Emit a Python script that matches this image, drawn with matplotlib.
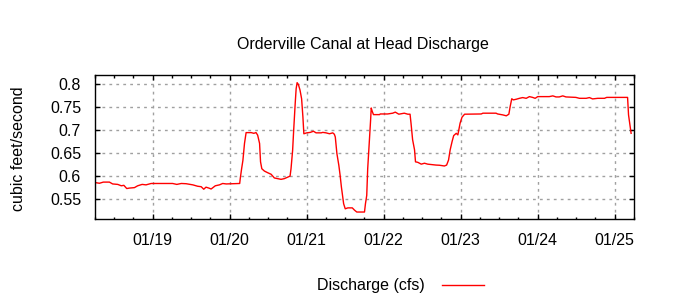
import matplotlib
matplotlib.use('Agg')
import matplotlib.pyplot as plt
import matplotlib.dates as mdates
import pandas as pd

# hours since 01/18 00:00 and discharge (cfs)
hours = [6.0, 7.4, 8.6, 10.5, 11.5, 13.1, 14.2, 15.0, 15.9, 16.7, 18.3, 19.3, 20.7, 21.9, 23.5,
         26.1, 30.2, 31.5, 32.9, 34.4, 36.5, 38.0, 39.1, 39.9, 40.6, 41.5, 42.2, 43.5, 44.8, 45.8,
         46.9, 51.1, 51.3, 51.7, 52.1, 52.6, 53.1, 54.7, 55.5, 56.2, 56.7, 57.3, 57.6, 58.0, 58.8,
         59.8, 60.9, 61.9, 63.0, 64.0, 65.0, 66.1, 66.8, 67.1, 67.6, 67.9, 68.4, 68.7, 69.0, 69.4,
         69.9, 70.4, 70.8, 71.1, 72.0, 73.1, 74.1, 74.9, 76.5, 77.0, 78.0, 79.1, 80.1, 80.6, 80.9,
         81.4, 82.0, 82.4, 82.8, 83.2, 83.5, 84.0, 84.8, 86.2, 86.9, 87.6, 90.0, 90.3, 90.7, 91.0,
         91.5, 91.9, 92.1, 92.4, 92.8, 94.7, 94.9, 97.2, 98.8, 99.6, 100.7, 102.4, 103.5, 104.2,
         104.5, 105.0, 105.6, 105.9, 106.6, 107.7, 108.7, 109.7, 112.3, 113.4, 114.9, 115.6, 116.2,
         116.7, 117.3, 117.8, 118.6, 119.1, 119.4, 119.8, 120.4, 121.2, 126.4, 126.9, 131.0, 131.5,
         133.1, 134.2, 135.0, 135.4, 135.9, 136.4, 137.3, 138.3, 139.3, 140.4, 141.4, 142.4, 143.2,
         144.0, 147.6, 148.7, 149.7, 150.7, 151.8, 152.8, 155.9, 157.0, 159.1, 160.1, 161.1, 162.7,
         164.8, 165.5, 171.5, 172.0, 172.3, 172.8, 173.1]
discharge = [0.585, 0.5835, 0.586, 0.586, 0.582, 0.581, 0.578, 0.579, 0.572, 0.573, 0.574, 0.578,
             0.581, 0.580, 0.583, 0.583, 0.583, 0.581, 0.583, 0.5825, 0.580, 0.577, 0.576, 0.5705,
             0.575, 0.573, 0.571, 0.578, 0.580, 0.583, 0.582, 0.583, 0.595, 0.615, 0.633, 0.670,
             0.6935, 0.6935, 0.692, 0.6935, 0.688, 0.670, 0.630, 0.615, 0.610, 0.6065, 0.603, 0.595,
             0.5935, 0.592, 0.5935, 0.597, 0.599, 0.615, 0.655, 0.695, 0.7565, 0.789, 0.802, 0.798,
             0.786, 0.767, 0.728, 0.691, 0.693, 0.694, 0.6965, 0.693, 0.693, 0.694, 0.693, 0.691,
             0.693, 0.690, 0.684, 0.648, 0.6226, 0.601, 0.5755, 0.554, 0.539, 0.528, 0.530, 0.530,
             0.525, 0.521, 0.521, 0.539, 0.557, 0.615, 0.673, 0.720, 0.747, 0.740, 0.7326, 0.7326,
             0.734, 0.734, 0.7357, 0.738, 0.7335, 0.7357, 0.7335, 0.7335, 0.714, 0.678, 0.656, 0.630,
             0.629, 0.625, 0.627, 0.625, 0.623, 0.6226, 0.621, 0.623, 0.634, 0.656, 0.674, 0.687,
             0.692, 0.6885, 0.699, 0.714, 0.727, 0.7335, 0.734, 0.7357, 0.7357, 0.734, 0.732, 0.730,
             0.7335, 0.750, 0.767, 0.7646, 0.766, 0.768, 0.7696, 0.768, 0.7717, 0.770, 0.768, 0.7717,
             0.7717, 0.7733, 0.771, 0.771, 0.7733, 0.771, 0.770, 0.768, 0.768, 0.7696, 0.7667, 0.768,
             0.768, 0.770, 0.770, 0.770, 0.732, 0.7065, 0.692]

base = pd.Timestamp('2024-01-18')
times = base + pd.to_timedelta(hours, unit='h')

plt.rcParams['font.family'] = ['Liberation Sans', 'DejaVu Sans']
plt.rcParams['font.size'] = 11.5

fig = plt.figure(figsize=(7, 3), dpi=100)
ax = fig.add_axes([0.1357, 0.271, 0.77, 0.478])

ax.plot(times, discharge, color='red', linewidth=1, label='Discharge (cfs)')

ax.set_xlim(base + pd.Timedelta(hours=6), base + pd.Timedelta(hours=174))
ax.set_ylim(0.5065, 0.818)
ax.set_yticks([0.55, 0.6, 0.65, 0.7, 0.75, 0.8])
ax.set_yticklabels(['0.55', '0.6', '0.65', '0.7', '0.75', '0.8'])

ax.xaxis.set_major_locator(mdates.DayLocator())
ax.xaxis.set_minor_locator(mdates.HourLocator(byhour=[0, 6, 12, 18]))
ax.xaxis.set_major_formatter(mdates.DateFormatter('%m/%d'))

ax.tick_params(which='both', direction='in', top=True, right=True, colors='black')
ax.tick_params(which='major', length=3.5, width=1)
ax.tick_params(which='minor', length=1.8, width=1)
ax.tick_params(axis='x', which='major', pad=10)
ax.tick_params(axis='y', which='major', pad=10)

ax.grid(True, which='major', color='#a0a0a0', linestyle=(0, (2, 3)), linewidth=1)
for s in ax.spines.values():
    s.set_linewidth(1.0)

ax.set_ylabel('cubic feet/second')
ax.yaxis.set_label_coords(-0.128, 0.49)

fig.text(0.518, 0.85, 'Orderville Canal at Head Discharge', ha='center', va='center')

ax.legend(loc='center', bbox_to_anchor=(0.572, 0.047), bbox_transform=fig.transFigure,
          frameon=False, markerfirst=False, handlelength=2.6, handletextpad=1.1)

fig.savefig('out.png', dpi=100)
